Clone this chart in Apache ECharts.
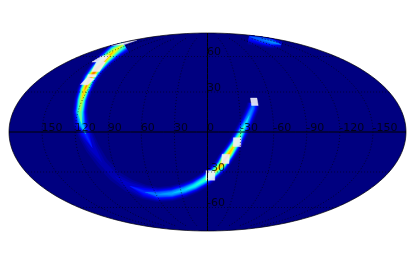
<!DOCTYPE html>
<html><head><meta charset="utf-8">
<style>html,body{margin:0;padding:0;background:#fff}#c{width:415px;height:264px}</style>
<script src="https://cdn.jsdelivr.net/npm/echarts@6/dist/echarts.min.js"></script>
</head><body><div id="c"></div>
<script>
// Sky-map readings (degrees). Main arc, from its faint end near the isolated patch round to the upper rim.
var ridgeLon  = [-43.5,-42.1,-38.7,-34.6,-29.9,-26.4,-20.4,-16.1,-13.5,-6,3.1,14.1,25.7,41.6,58.4,71.8,84.4,94.1,100.3,105.7,110.6,114.6,118.1,120.7,123.1,126.7,130.5,136.8,146.7,162.8];
var ridgeLat  = [21,17.8,12.6,5.9,-1.5,-7.4,-15.5,-20.8,-24.6,-30.8,-36.3,-41.1,-44.4,-47.4,-48.3,-46.2,-41.1,-33.1,-23.1,-11.8,-1.5,5.9,14.8,23.8,31.6,40.3,48.8,57.7,65.4,72.4];
var ridgePeak = [0.22,0.25,0.28,0.35,0.45,0.55,0.72,0.82,0.72,0.55,0.42,0.38,0.34,0.3,0.26,0.17,0.08,0.05,0.05,0.08,0.17,0.34,0.5,0.6,0.72,0.8,0.8,0.75,0.65,0.5];
var ridgeSigma= [2.6,2.6,2.6,2.6,2.6,2.6,2.6,2.6,2.6,2.6,2.8,2.8,2.9,3,3,3.2,3.6,4,4,3.8,3.3,3,2.8,2.6,2.6,2.6,2.6,2.8,3.2,3.6];
// Faint streak by the upper rim on the far side.
var glowLon   = [-145,-137,-139,-143];
var glowLat   = [82.8,78.5,75.3,72.4];
var glowPeak  = [0.18,0.24,0.27,0.1];
var glowSigma = [3.5,3,2.5,2];
// Saturated pixels: four [lon, lat] corners each.
var hotPixels = [
  [[-41.5,25.3],[-47.7,25.3],[-47.7,19.7],[-41.5,19.7]],
  [[-23.5,-4.2],[-30.5,-4.2],[-30.5,-10.7],[-23.5,-10.7]],
  [[-13.5,-16.5],[-20.5,-16.5],[-20.5,-23.5],[-13.5,-23.5]],
  [[1.5,-29],[-7.5,-29],[-7.5,-36.5],[1.5,-36.5]],
  [[131.3,35.9],[130.9,42],[121.3,40.3],[123.6,35.5]],
  [[133.1,44.1],[123.6,44.1],[122.2,42],[130.9,42]],
  [[132.8,46.6],[142.4,54.9],[130.9,54.9],[123.7,46.6]],
  [[148.2,54.9],[150,60.5],[140,61],[133.4,54.9]],
  [[179,71.2],[177,76],[171,77.6],[160.8,72.4]]
];
var lonTicks = [150,120,90,60,30,0,-30,-60,-90,-120,-150];
var latTicks = [60,30,-30,-60];
var gridLats = [60,30,-30,-60];
var gridLons = [150,120,90,60,30,-30,-60,-90,-120,-150];

var R2 = Math.SQRT2;
function project(lon, lat) {
  var phi = lat * Math.PI / 180, t = phi;
  if (Math.abs(lat) >= 90) t = phi; else
  for (var i = 0; i < 30; i++) {
    t -= (2*t + Math.sin(2*t) - Math.PI*Math.sin(phi)) / (2 + 2*Math.cos(2*t));
  }
  return [2*R2/Math.PI * (lon*Math.PI/180) * Math.cos(t), R2*Math.sin(t)];
}
function seg(v, pts) {
  for (var i = 1; i < pts.length; i++) {
    if (v <= pts[i][0]) {
      var a = pts[i-1], b = pts[i];
      return a[1] + (b[1]-a[1]) * (v-a[0])/(b[0]-a[0]);
    }
  }
  return pts[pts.length-1][1];
}
function jet(v) {
  var r = seg(v, [[0,0],[.35,0],[.66,1],[.89,1],[1,.5]]);
  var g = seg(v, [[0,0],[.125,0],[.375,1],[.64,1],[.91,0],[1,0]]);
  var b = seg(v, [[0,.5],[.11,1],[.34,1],[.65,0],[1,0]]);
  return 'rgb(' + Math.round(r*255) + ',' + Math.round(g*255) + ',' + Math.round(b*255) + ')';
}
function frame(api) {
  var c = api.coord([0,0]), s = api.size([2*R2, R2]);
  return {cx:c[0], cy:c[1], rx:s[0], ry:s[1]};
}
function clamp(p, f) {
  var u = (p[0]-f.cx)/f.rx, v = (p[1]-f.cy)/f.ry, d = Math.sqrt(u*u+v*v);
  if (d > 1) { u /= d; v /= d; }
  return [f.cx+u*f.rx, f.cy+v*f.ry];
}
function bandShapes(api, level, lons, lats, peaks, sigmas) {
  var f = frame(api), pts = [];
  for (var i = 0; i < lons.length; i++) pts.push(api.coord(project(lons[i], lats[i])));
  var pxDeg = f.rx / 180, polys = [], a = [], b = [];
  function width(k) {
    return peaks[k] > level ? sigmas[k]*pxDeg*Math.sqrt(2*Math.log(peaks[k]/level)) : 0;
  }
  function add(k) {
    var p = pts[Math.max(k-1,0)], n = pts[Math.min(k+1,pts.length-1)];
    var dx = n[0]-p[0], dy = n[1]-p[1], m = Math.sqrt(dx*dx+dy*dy) || 1, w = width(k);
    a.push(clamp([pts[k][0]-dy/m*w, pts[k][1]+dx/m*w], f));
    b.unshift(clamp([pts[k][0]+dy/m*w, pts[k][1]-dx/m*w], f));
  }
  for (i = 0; i < pts.length; i++) {
    var on = width(i) > 0;
    var near = on || (i > 0 && width(i-1) > 0) || (i < pts.length-1 && width(i+1) > 0);
    if (near) add(i);
    if (!on && a.length > 1 && i > 0 && width(i-1) > 0) { polys.push(a.concat(b)); a = []; b = []; }
  }
  if (a.length > 1) polys.push(a.concat(b));
  return polys;
}
var levels = [];
for (var q = 2; q < 96; q += 2) levels.push([q/100]);

function bandSeries(lons, lats, peaks, sigmas, z) {
  return {
    type:'custom', coordinateSystem:'cartesian2d', silent:true, clip:false, z:z,
    data:levels,
    encode:{x:[],y:[]},
    renderItem:function(params, api){
      var L = api.value(0);
      return {type:'group', children:bandShapes(api, L, lons, lats, peaks, sigmas).map(function(poly){
        return {type:'polygon', shape:{points:poly}, style:{fill:jet(L)}};
      })};
    }
  };
}
var series = [];
series.push({
  type:'custom', coordinateSystem:'cartesian2d', silent:true, clip:false, z:1,
  data:[[0]], encode:{x:[],y:[]},
  renderItem:function(params, api){
    var f = frame(api), pts = [];
    for (var i = 0; i < 360; i++) {
      var a = i*Math.PI/180;
      pts.push([f.cx+f.rx*Math.cos(a), f.cy+f.ry*Math.sin(a)]);
    }
    return {type:'polygon', shape:{points:pts}, style:{fill:jet(0), stroke:'none'}};
  }
});
series.push(bandSeries(glowLon, glowLat, glowPeak, glowSigma, 2));
series.push(bandSeries(ridgeLon, ridgeLat, ridgePeak, ridgeSigma, 3));
series.push({
  type:'custom', coordinateSystem:'cartesian2d', silent:true, clip:false, z:4,
  data:hotPixels.map(function(h,i){return [i];}), encode:{x:[],y:[]},
  renderItem:function(params, api){
    var f = frame(api);
    var pts = hotPixels[api.value(0)].map(function(c){return clamp(api.coord(project(c[0],c[1])), f);});
    return {type:'polygon', shape:{points:pts}, style:{fill:'rgba(238,238,248,0.9)', stroke:'rgba(238,238,248,0.5)', lineWidth:0.8}};
  }
});
function lineSeries(pts, type, width, opacity) {
  return {type:'line', data:pts, showSymbol:false, symbol:'none', silent:true, z:5, clip:false,
    lineStyle:{color:'#000', type:type, width:width, opacity:opacity}};
}
gridLons.forEach(function(lon){
  var pts = [];
  for (var lat = -80; lat <= 80; lat += 2) pts.push(project(lon, lat));
  series.push(lineSeries(pts, [1,2], 0.8, 0.8));
});
gridLats.forEach(function(lat){
  var pts = [];
  for (var lon = -180; lon <= 180; lon += 5) pts.push(project(lon, lat));
  series.push(lineSeries(pts, [1,2], 0.8, 0.7));
});
var eq = [], cm = [];
for (var v = -180; v <= 180; v += 10) eq.push(project(v, 0));
for (v = -90; v <= 90; v += 5) cm.push(project(0, v));
series.push(lineSeries(eq, 'solid', 1, 1));
series.push(lineSeries(cm, 'solid', 1, 1));
var rim = [];
for (v = 0; v <= 360; v += 2) rim.push([2*R2*Math.cos(v*Math.PI/180), R2*Math.sin(v*Math.PI/180)]);
series.push(lineSeries(rim, 'solid', 0.8, 0.85));

function labelSeries(points) {
  return {type:'scatter', data:points, symbolSize:1, itemStyle:{color:'rgba(0,0,0,0)'}, silent:true, z:6, clip:false,
    label:{show:true, position:[0,2], align:'left', verticalAlign:'bottom', color:'#000',
      fontFamily:'DejaVu Sans', fontSize:11, formatter:function(p){return p.name;}}};
}
series.push(labelSeries(lonTicks.map(function(l){return {value:project(l,0),name:String(l)};})));
series.push(labelSeries(latTicks.map(function(l){return {value:project(0,l),name:String(l)};})));

var chart = echarts.init(document.getElementById('c'), null, {renderer:'canvas'});
chart.setOption({
  animation:false, backgroundColor:'#fff',
  grid:{left:9, top:33, width:397, height:198},
  xAxis:{type:'value', min:-2*R2, max:2*R2, inverse:true, show:false},
  yAxis:{type:'value', min:-R2, max:R2, show:false},
  tooltip:{show:false},
  series:series
});
</script></body></html>
